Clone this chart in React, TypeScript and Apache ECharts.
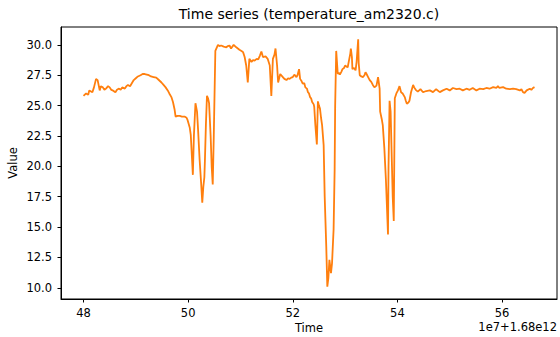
import React, { useEffect, useRef } from "react";
import * as echarts from "echarts";

// Time in units of 1e7 ms, offset by 1.68e12 ms
const timeValues: number[] = [
  48.00, 48.05, 48.09, 48.11, 48.17, 48.20, 48.24, 48.27, 48.31, 48.33,
  48.37, 48.40, 48.43, 48.47, 48.50, 48.53, 48.56, 48.61, 48.64, 48.68,
  48.71, 48.74, 48.79, 48.82, 48.85, 48.89, 48.96, 49.00, 49.04, 49.09,
  49.13, 49.17, 49.21, 49.25, 49.29, 49.34, 49.39, 49.43, 49.49, 49.53,
  49.57, 49.61, 49.64, 49.68, 49.71, 49.74, 49.76, 49.80, 49.84, 49.88,
  49.93, 49.97, 49.99, 50.03, 50.05,
  50.09, 50.11, 50.14, 50.17, 50.19, 50.22, 50.25, 50.27, 50.29, 50.31,
  50.32, 50.34, 50.36, 50.38, 50.40, 50.43, 50.45, 50.47, 50.49, 50.52,
  50.57, 50.60, 50.63, 50.68, 50.73, 50.76, 50.79, 50.82, 50.87, 50.92,
  50.95, 50.98, 51.02, 51.05, 51.08, 51.11, 51.14, 51.17, 51.21, 51.24,
  51.27, 51.31, 51.34, 51.37, 51.40, 51.43, 51.48, 51.52, 51.56, 51.59,
  51.62, 51.65, 51.67, 51.70, 51.72, 51.76, 51.81, 51.84, 51.88, 51.91,
  51.94, 51.97, 52.00, 52.03, 52.07, 52.09, 52.12, 52.14, 52.17, 52.19,
  52.22, 52.24, 52.27, 52.29, 52.31, 52.33, 52.35, 52.37, 52.40, 52.41,
  52.43, 52.46, 52.48, 52.50, 52.52, 52.54, 52.56, 52.59, 52.61, 52.64,
  52.66, 52.68, 52.70, 52.72, 52.73, 52.75, 52.78, 52.80, 52.81, 52.83,
  52.86, 52.88, 52.90, 52.93, 52.95, 52.98, 53.00, 53.03, 53.05, 53.06,
  53.08, 53.10, 53.11, 53.13, 53.14, 53.17, 53.20, 53.22, 53.25, 53.26,
  53.28, 53.31, 53.34, 53.37, 53.39, 53.41, 53.44, 53.47, 53.50, 53.53,
  53.56, 53.60, 53.63, 53.66, 53.67, 53.70, 53.72, 53.75, 53.78, 53.82,
  53.83, 53.85, 53.87, 53.89, 53.91, 53.93, 53.94, 53.95, 53.98, 54.01,
  54.04, 54.07, 54.10, 54.14, 54.16, 54.18, 54.21, 54.23, 54.26, 54.30,
  54.32, 54.35, 54.39, 54.44, 54.49, 54.55, 54.62, 54.68, 54.74, 54.81,
  54.87, 54.94, 55.00, 55.06, 55.13, 55.19, 55.25, 55.32, 55.38, 55.44,
  55.51, 55.57, 55.64, 55.70, 55.76, 55.83, 55.89, 55.92, 55.95, 56.02,
  56.08, 56.15, 56.21, 56.27, 56.34, 56.37, 56.40, 56.43, 56.47, 56.53,
  56.56, 56.59, 56.62,
];

const temperature: number[] = [
  25.8, 26.0, 25.9, 26.25, 26.1, 26.5, 27.2, 27.1, 26.25, 26.6,
  26.5, 26.3, 26.4, 26.6, 26.5, 26.3, 26.25, 26.1, 26.3, 26.4,
  26.3, 26.5, 26.4, 26.6, 26.7, 26.6, 27.1, 27.25, 27.4, 27.5,
  27.6, 27.6, 27.55, 27.5, 27.4, 27.35, 27.3, 27.15, 26.9, 26.7,
  26.5, 26.25, 26.0, 25.7, 25.3, 24.7, 24.1, 24.15, 24.15, 24.1,
  24.1, 24.0, 23.8, 23.2, 22.6,
  19.3, 22.5, 25.2, 24.5, 23.0, 20.5, 18.5, 17.0, 18.3, 19.1,
  20.4, 23.5, 25.8, 25.6, 25.2, 22.5, 20.0, 18.5, 22.5, 29.5,
  30.0, 29.9, 29.95, 29.85, 29.8, 29.9, 29.95, 29.7, 30.0, 29.8,
  29.7, 29.6, 29.5, 29.4, 29.0, 28.3, 26.9, 28.85, 28.6, 28.75,
  28.7, 28.85, 28.8, 29.1, 29.45, 29.0, 29.05, 28.85, 28.3, 25.8,
  28.85, 29.2, 29.7, 28.3, 26.9, 27.6, 27.35, 27.2, 27.1, 27.25,
  27.2, 27.3, 27.35, 27.55, 27.35, 27.5, 28.0, 27.2, 27.0, 26.8,
  26.85, 26.5, 26.4, 26.1, 26.0, 25.7, 25.6, 25.3, 25.1, 24.9,
  23.5, 21.8, 25.35, 25.0, 24.75, 24.0, 23.4, 21.75, 17.5, 13.4,
  10.1, 10.8, 12.3, 11.6, 11.2, 12.0, 14.8, 19.7, 25.0, 29.5,
  27.6, 27.7, 27.55, 27.8, 28.0, 28.1, 28.3, 28.2, 28.15, 28.4,
  28.85, 29.3, 29.7, 29.0, 28.0, 28.1, 27.9, 28.6, 30.45, 28.5,
  27.5, 27.4, 27.35, 27.5, 27.75, 27.6, 27.35, 27.1, 26.95, 26.7,
  26.5, 26.65, 27.35, 26.4, 24.5, 23.9, 23.4, 21.5, 18.9, 14.4,
  20.0, 25.4, 24.5, 21.0, 17.5, 15.5, 20.5, 25.6, 26.0, 26.25,
  26.6, 26.1, 26.0, 25.7, 25.4, 25.15, 25.25, 25.4, 26.1, 26.7,
  26.5, 26.3, 26.15, 26.35, 26.1, 26.2, 26.25, 26.11, 26.35, 26.11,
  26.25, 26.39, 26.25, 26.45, 26.35, 26.39, 26.25, 26.39, 26.3, 26.45,
  26.25, 26.39, 26.35, 26.45, 26.39, 26.52, 26.45, 26.6, 26.45, 26.52,
  26.39, 26.35, 26.39, 26.35, 26.25, 26.35, 26.11, 26.05, 26.25, 26.39,
  26.3, 26.45, 26.52,
];

const xTicks: number[] = [48, 50, 52, 54, 56];
const yTicks: number[] = [10, 12.5, 15, 17.5, 20, 22.5, 25, 27.5, 30];

const FONT = "DejaVu Sans";

export default function App() {
  const ref = useRef<HTMLDivElement>(null);
  useEffect(() => {
    if (!ref.current) return;
    const chart = echarts.init(ref.current, undefined, { renderer: "svg" });
    const data = timeValues.map((t, i) => [t, temperature[i]]);
    const gridLeft = 61, gridRight = 557, gridTop = 27, gridBottom = 299;
    chart.setOption({
      animation: false,
      backgroundColor: "#ffffff",
      grid: {
        left: gridLeft,
        top: gridTop,
        width: gridRight - gridLeft,
        height: gridBottom - gridTop,
        show: true,
        borderColor: "#000",
        borderWidth: 1,
        containLabel: false,
      },
      xAxis: {
        type: "value",
        min: 47.57,
        max: 57.05,
        splitLine: { show: false },
        axisLine: { show: true, lineStyle: { color: "#000", width: 1 } },
        axisTick: {
          show: true,
          inside: false,
          length: 3.5,
          customValues: xTicks,
          lineStyle: { color: "#000", width: 1 },
        },
        axisLabel: {
          customValues: xTicks,
          formatter: (v: number) => String(Math.round(v)),
          color: "#000",
          fontFamily: FONT,
          fontSize: 11.5,
          margin: 8,
        },
      },
      yAxis: {
        type: "value",
        min: 9.08,
        max: 31.47,
        splitLine: { show: false },
        axisLine: { show: true, lineStyle: { color: "#000", width: 1 } },
        axisTick: {
          show: true,
          inside: false,
          length: 3.5,
          customValues: yTicks,
          lineStyle: { color: "#000", width: 1 },
        },
        axisLabel: {
          customValues: yTicks,
          formatter: (v: number) => v.toFixed(1),
          color: "#000",
          fontFamily: FONT,
          fontSize: 11.5,
          margin: 9,
        },
      },
      graphic: [
        {
          type: "text",
          x: (gridLeft + gridRight) / 2,
          y: 14,
          style: {
            text: "Time series (temperature_am2320.c)",
            fill: "#000",
            font: `14px "${FONT}"`,
            textAlign: "center",
            textVerticalAlign: "middle",
          },
        },
        {
          type: "text",
          x: (gridLeft + gridRight) / 2,
          y: 328,
          style: {
            text: "Time",
            fill: "#000",
            font: `11.5px "${FONT}"`,
            textAlign: "center",
            textVerticalAlign: "middle",
          },
        },
        {
          type: "text",
          x: gridRight,
          y: 327,
          style: {
            text: "1e7+1.68e12",
            fill: "#000",
            font: `11.5px "${FONT}"`,
            textAlign: "right",
            textVerticalAlign: "middle",
          },
        },
        {
          type: "text",
          x: 13,
          y: (gridTop + gridBottom) / 2,
          rotation: Math.PI / 2,
          style: {
            text: "Value",
            fill: "#000",
            font: `11.5px "${FONT}"`,
            textAlign: "center",
            textVerticalAlign: "middle",
          },
        },
      ],
      series: [
        {
          type: "line",
          data,
          showSymbol: false,
          symbol: "none",
          lineStyle: { color: "#ff7f0e", width: 1.8 },
          z: 3,
        },
      ],
    });
    return () => chart.dispose();
  }, []);
  return (
    <div
      ref={ref}
      style={{ position: "fixed", left: 0, top: 0, width: 560, height: 337 }}
    />
  );
}
